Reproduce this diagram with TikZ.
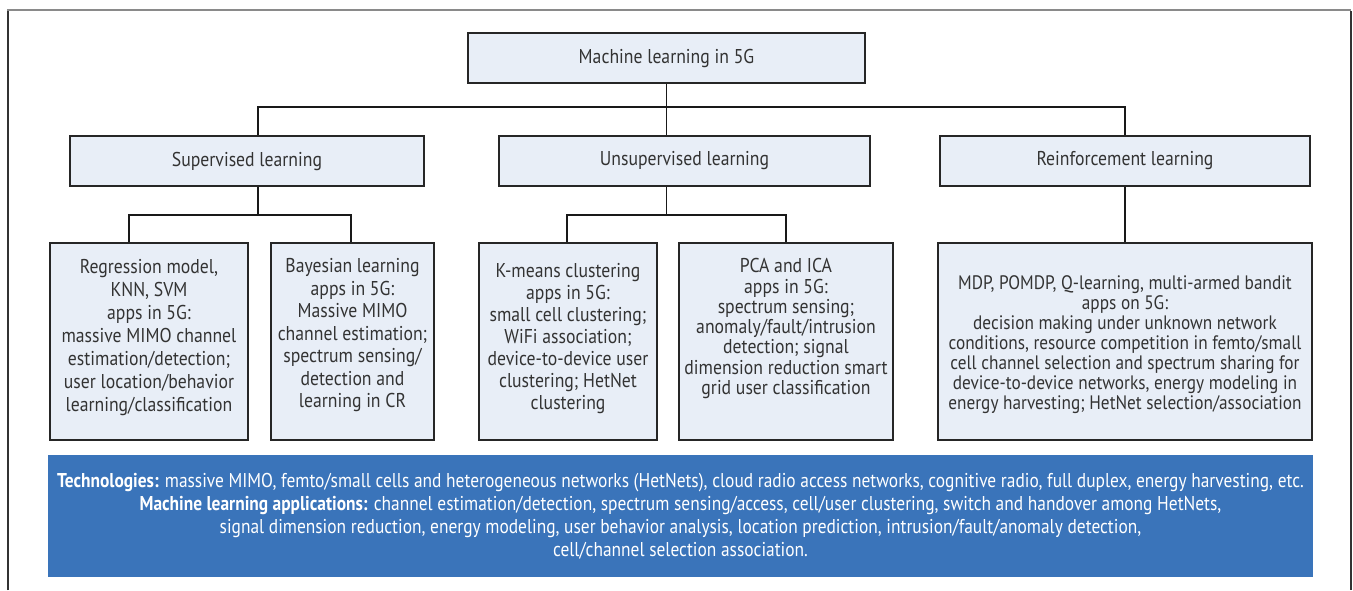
\documentclass[tikz,border=0pt]{standalone}
\usepackage{fontspec}
\setmainfont{PT Sans}[FakeStretch=0.885]
\newfontfamily\bluefont{PT Sans}[FakeStretch=0.87]
\definecolor{boxfill}{HTML}{E8EEF7}
\definecolor{bluebg}{HTML}{3A74BA}
\definecolor{txt}{HTML}{333333}
\definecolor{framegray}{HTML}{8A8A8A}
\newcommand\padb[1]{\rule[-#1]{0pt}{#1}}
\newcommand\padt[1]{\rule{0pt}{#1}}
\begin{document}
\begin{tikzpicture}[x=1pt,y=-1pt,
  box/.style={draw=black!85, line width=1.6pt, fill=boxfill, text=txt, align=center, inner sep=0pt,
    font=\fontsize{20}{23}\selectfont},
  headbox/.style={box, minimum height=50pt},
  leafbox/.style={box, minimum height=197pt},
  conn/.style={line width=1.8pt, black!90}]
\useasboundingbox (0,0) rectangle (1353,590);
\draw[framegray, line width=2pt] (8,590) -- (8,10) -- (1351,10);
\draw[black!80, line width=1.5pt] (8,590) -- (8,11);
\draw[black!80, line width=1.5pt] (1351,11) -- (1351,590);

\node[headbox, minimum width=397pt] (top) at (666.5,58) {Machine learning in 5G};
\node[headbox, minimum width=354pt] (sup) at (247,161) {Supervised learning};
\node[headbox, minimum width=371pt] (uns) at (684.5,161) {Unsupervised learning};
\node[headbox, minimum width=370pt] (rl) at (1125,161) {Reinforcement learning};

\node[leafbox, minimum width=198pt, font=\fontsize{20}{23}\selectfont] (reg) at (149,341.5)
  {Regression model,\\KNN, SVM\\apps in 5G:\\massive MIMO channel\\estimation/detection;\\user location/behavior\\learning/classification\padb{12pt}};
\node[leafbox, minimum width=163pt, font=\fontsize{20}{22.5}\selectfont] (bay) at (352.5,341.5)
  {Bayesian learning\\apps in 5G:\\Massive MIMO\\channel estimation;\\spectrum sensing/\\detection and\\learning in CR\padb{17pt}};
\node[leafbox, minimum width=178pt, font=\fontsize{20}{22}\selectfont] (km) at (568,341.5)
  {K-means clustering\\apps in 5G:\\small cell clustering;\\WiFi association;\\device-to-device user\\clustering; HetNet\\clustering\padb{10pt}};
\node[leafbox, minimum width=214pt, font=\fontsize{20}{20.3}\selectfont] (pca) at (786,341.5)
  {PCA and ICA\\apps in 5G:\\spectrum sensing;\\anomaly/fault/intrusion\\detection; signal\\dimension reduction smart\\grid user classification\padb{30pt}};
\node[leafbox, minimum width=374pt, font=\fontsize{19.5}{20}\selectfont] (mdp) at (1125,341.5)
  {\padt{20pt}MDP, POMDP, Q-learning, multi-armed bandit\\apps on 5G:\\decision making under unknown network\\conditions, resource competition in femto/small\\cell channel selection and spectrum sharing for\\device-to-device networks, energy modeling in\\energy harvesting; HetNet selection/association};

\node[fill=bluebg, text=white, align=center, inner sep=0pt, minimum width=1265pt, minimum height=122pt,
  font=\bluefont\fontsize{20}{23}\selectfont] (tech) at (680.5,516)
  {\textbf{Technologies:} massive MIMO, femto/small cells and heterogeneous networks (HetNets), cloud radio access networks, cognitive radio, full duplex, energy harvesting, etc.\\
   \textbf{Machine learning applications:} channel estimation/detection, spectrum sensing/access, cell/user clustering, switch and handover among HetNets,\\
   signal dimension reduction, energy modeling, user behavior analysis, location prediction, intrusion/fault/anomaly detection,\\
   cell/channel selection association.};

\coordinate (jl) at (258,107);
\coordinate (jr) at (1125,107);
\coordinate (a1) at (129,215);
\coordinate (a2) at (351,215);
\coordinate (b1) at (567,215);
\coordinate (b2) at (786,215);

\draw[conn] (top.south) -- (top.south |- uns.north);
\draw[conn] (jl |- sup.north) -- (jl) -- (jr) -- (jr |- rl.north);
\draw[conn] (jl |- sup.south) -- (jl |- a1);
\draw[conn] (a1 |- reg.north) -- (a1) -- (a2) -- (a2 |- bay.north);
\draw[conn] (top.south |- uns.south) -- (top.south |- b1);
\draw[conn] (b1 |- km.north) -- (b1) -- (b2) -- (b2 |- pca.north);
\draw[conn] (rl.south) -- (mdp.north);
\end{tikzpicture}
\end{document}
